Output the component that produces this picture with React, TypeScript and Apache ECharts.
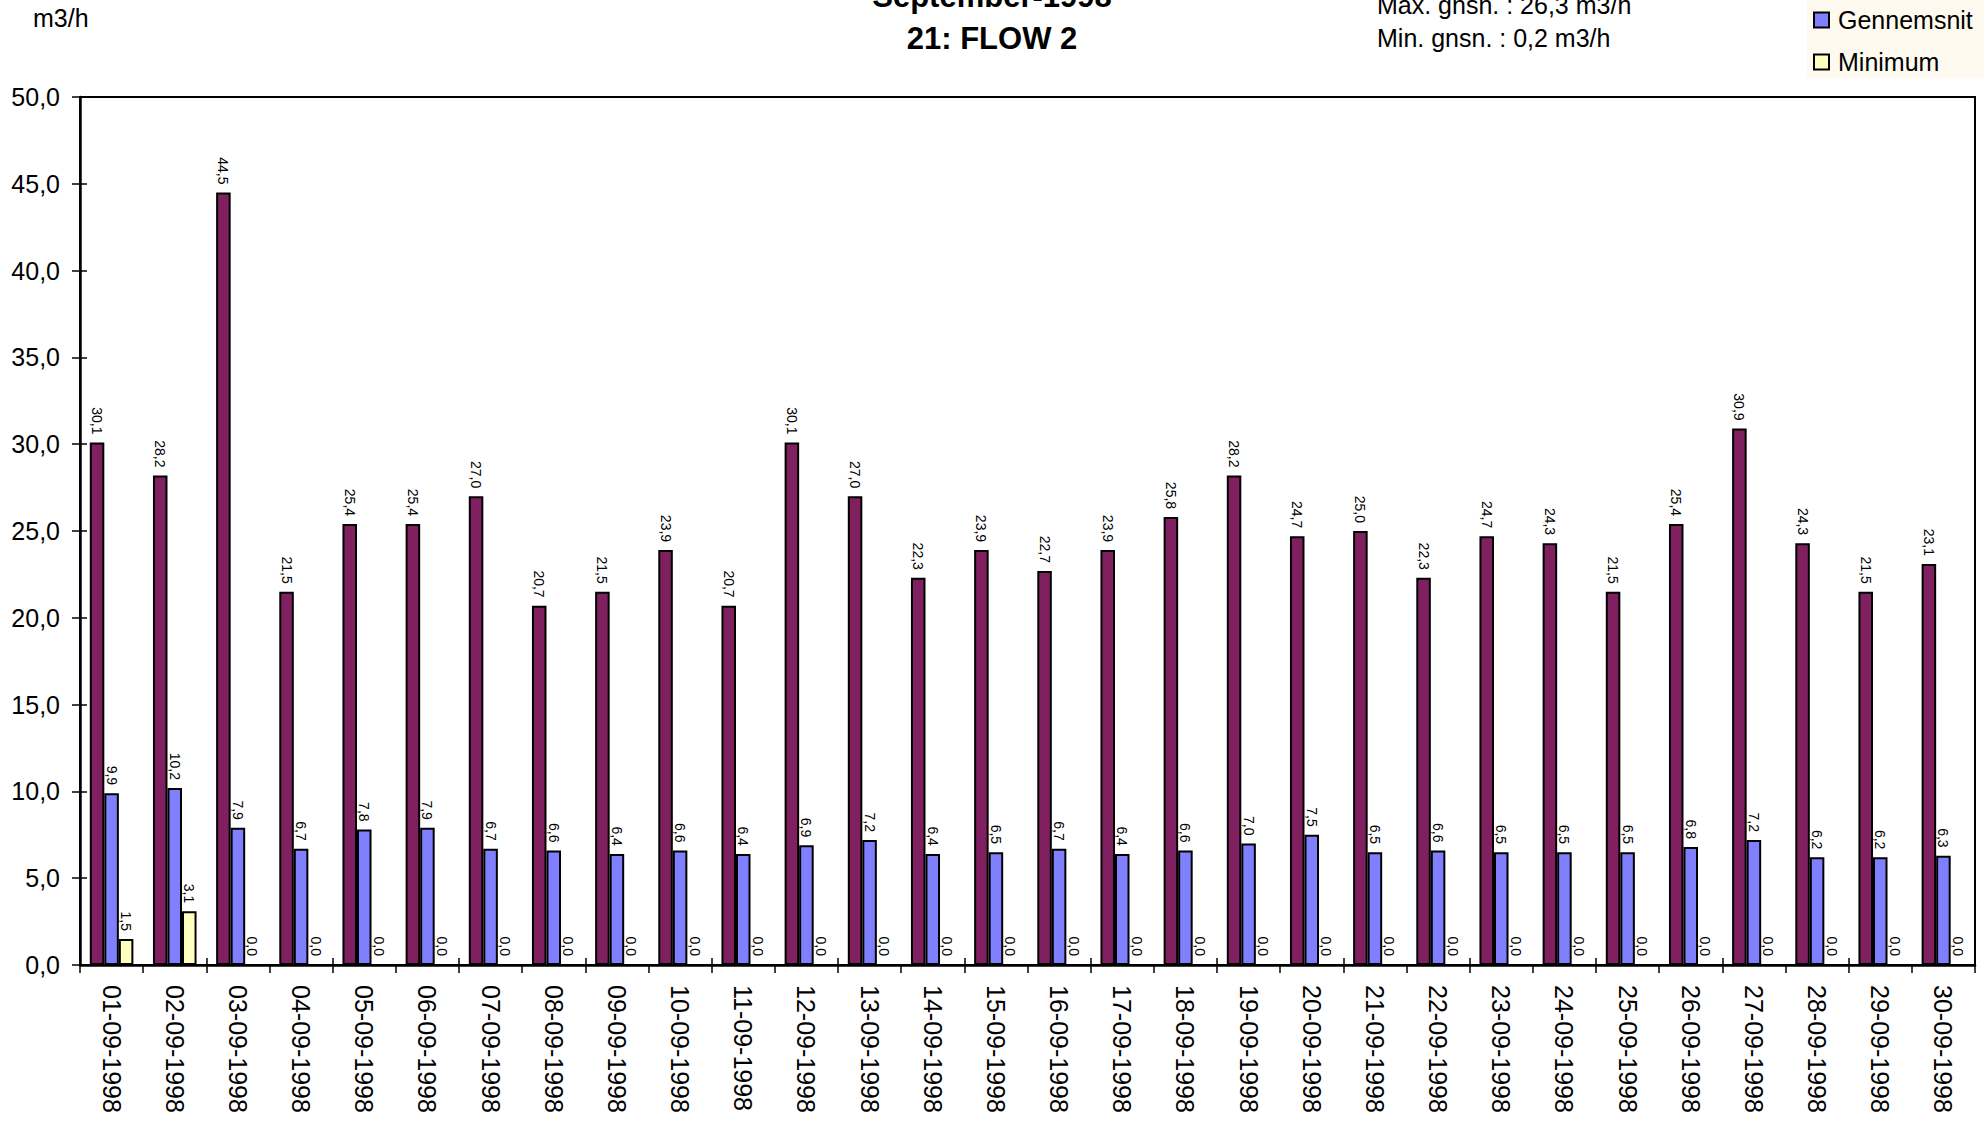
import React, { useEffect, useRef } from "react";
import * as echarts from "echarts";

const FONT = "'Liberation Sans', Arial, sans-serif";

const categories = [
  "01-09-1998", "02-09-1998", "03-09-1998", "04-09-1998", "05-09-1998",
  "06-09-1998", "07-09-1998", "08-09-1998", "09-09-1998", "10-09-1998",
  "11-09-1998", "12-09-1998", "13-09-1998", "14-09-1998", "15-09-1998",
  "16-09-1998", "17-09-1998", "18-09-1998", "19-09-1998", "20-09-1998",
  "21-09-1998", "22-09-1998", "23-09-1998", "24-09-1998", "25-09-1998",
  "26-09-1998", "27-09-1998", "28-09-1998", "29-09-1998", "30-09-1998",
];

const maksimum = [
  30.1, 28.2, 44.5, 21.5, 25.4, 25.4, 27.0, 20.7, 21.5, 23.9,
  20.7, 30.1, 27.0, 22.3, 23.9, 22.7, 23.9, 25.8, 28.2, 24.7,
  25.0, 22.3, 24.7, 24.3, 21.5, 25.4, 30.9, 24.3, 21.5, 23.1,
];

const gennemsnit = [
  9.9, 10.2, 7.9, 6.7, 7.8, 7.9, 6.7, 6.6, 6.4, 6.6,
  6.4, 6.9, 7.2, 6.4, 6.5, 6.7, 6.4, 6.6, 7.0, 7.5,
  6.5, 6.6, 6.5, 6.5, 6.5, 6.8, 7.2, 6.2, 6.2, 6.3,
];

const minimum = [
  1.5, 3.1, 0.0, 0.0, 0.0, 0.0, 0.0, 0.0, 0.0, 0.0,
  0.0, 0.0, 0.0, 0.0, 0.0, 0.0, 0.0, 0.0, 0.0, 0.0,
  0.0, 0.0, 0.0, 0.0, 0.0, 0.0, 0.0, 0.0, 0.0, 0.0,
];

const seriesNames = ["Maksimum", "Gennemsnit", "Minimum"];
const seriesColors = ["#802060", "#8080FF", "#FFFFC0"];

const titleLines = ["September-1998", "21: FLOW 2"];
const statLines = ["Max. gnsn. : 26,3 m3/h", "Min. gnsn. : 0,2 m3/h"];
const unitLabel = "m3/h";

const fmt = (v: number) => v.toFixed(1).replace(".", ",");

export default function App() {
  const ref = useRef<HTMLDivElement>(null);

  useEffect(() => {
    if (!ref.current) return;
    const chart = echarts.init(ref.current, undefined, { renderer: "svg" });

    const seriesData = [maksimum, gennemsnit, minimum];

    const option: any = {
      animation: false,
      backgroundColor: "#ffffff",
      textStyle: { fontFamily: FONT },
      title: {
        text: titleLines.join("\n"),
        left: "center",
        top: -30,
        textStyle: {
          fontFamily: FONT,
          fontSize: 31,
          fontWeight: "bold",
          color: "#000",
          lineHeight: 42,
        },
      },
      legend: {
        orient: "vertical",
        left: 1807,
        top: -42,
        padding: [5, 30, 1, 6],
        itemGap: 12,
        itemWidth: 15,
        itemHeight: 15,
        icon: "rect",
        backgroundColor: "#FFFAF0",
        data: seriesNames,
        itemStyle: { borderColor: "#000", borderWidth: 2 },
        textStyle: {
          fontFamily: FONT,
          fontSize: 25,
          color: "#000",
          lineHeight: 30,
          padding: [0, 0, 0, 4],
        },
      },
      graphic: [
        {
          type: "text",
          x: 33,
          y: 18,
          style: {
            text: unitLabel,
            font: `25px ${FONT}`,
            fill: "#000",
            align: "left",
            verticalAlign: "middle",
          },
        },
        ...statLines.map((t, i) => ({
          type: "text",
          x: 1377,
          y: 4.5 + i * 33.5,
          style: {
            text: t,
            font: `25px ${FONT}`,
            fill: "#000",
            align: "left",
            verticalAlign: "middle",
          },
        })),
      ],
      grid: {
        left: 80,
        right: 9,
        top: 97,
        bottom: 156,
        show: true,
        borderColor: "#000",
        borderWidth: 2,
        backgroundColor: "#fff",
      },
      xAxis: [
        {
          type: "category",
          data: categories,
          position: "bottom",
          boundaryGap: true,
          axisLine: { show: true, lineStyle: { color: "#000", width: 2.5 } },
          axisTick: { show: true, inside: false, length: 8, lineStyle: { color: "#000", width: 1.5 } },
          axisLabel: {
            interval: 0,
            rotate: -90,
            margin: 20,
            fontFamily: FONT,
            fontSize: 25,
            color: "#000",
            padding: [16, 0, 0, 0],
          },
          splitLine: { show: false },
        },
        {
          type: "category",
          data: categories,
          position: "bottom",
          boundaryGap: true,
          axisLine: { show: false },
          axisTick: { show: true, inside: true, length: 7, lineStyle: { color: "#000", width: 1.5 } },
          axisLabel: { show: false },
          splitLine: { show: false },
        },
      ],
      yAxis: [
        {
          type: "value",
          min: 0,
          max: 50,
          interval: 5,
          position: "left",
          axisLine: { show: true, lineStyle: { color: "#000", width: 2.5 } },
          axisTick: { show: true, inside: false, length: 8, lineStyle: { color: "#000", width: 1.5 } },
          axisLabel: {
            margin: 20,
            fontFamily: FONT,
            fontSize: 25,
            color: "#000",
            formatter: (v: number) => fmt(v),
            padding: [8, 0, 0, 0],
          },
          splitLine: { show: false },
        },
        {
          type: "value",
          min: 0,
          max: 50,
          interval: 5,
          position: "left",
          axisLine: { show: false },
          axisTick: { show: true, inside: true, length: 7, lineStyle: { color: "#000", width: 1.5 } },
          axisLabel: { show: false },
          splitLine: { show: false },
        },
      ],
      series: seriesNames.map((name, i) => ({
        name,
        type: "bar",
        xAxisIndex: 0,
        yAxisIndex: 0,
        data: seriesData[i],
        barGap: "0%",
        barCategoryGap: "31%",
        itemStyle: {
          color: seriesColors[i],
          borderColor: "#000",
          borderWidth: 2,
        },
        emphasis: { disabled: true },
        label: {
          show: true,
          position: "top",
          distance: 8,
          rotate: -90,
          align: "right",
          verticalAlign: "middle",
          fontFamily: FONT,
          fontSize: 14,
          color: "#000",
          formatter: (p: any) => fmt(p.value),
        },
      })),
    };

    chart.setOption(option);
    return () => chart.dispose();
  }, []);

  return (
    <div
      ref={ref}
      style={{ position: "fixed", left: 0, top: 0, width: 1984, height: 1121 }}
    />
  );
}
